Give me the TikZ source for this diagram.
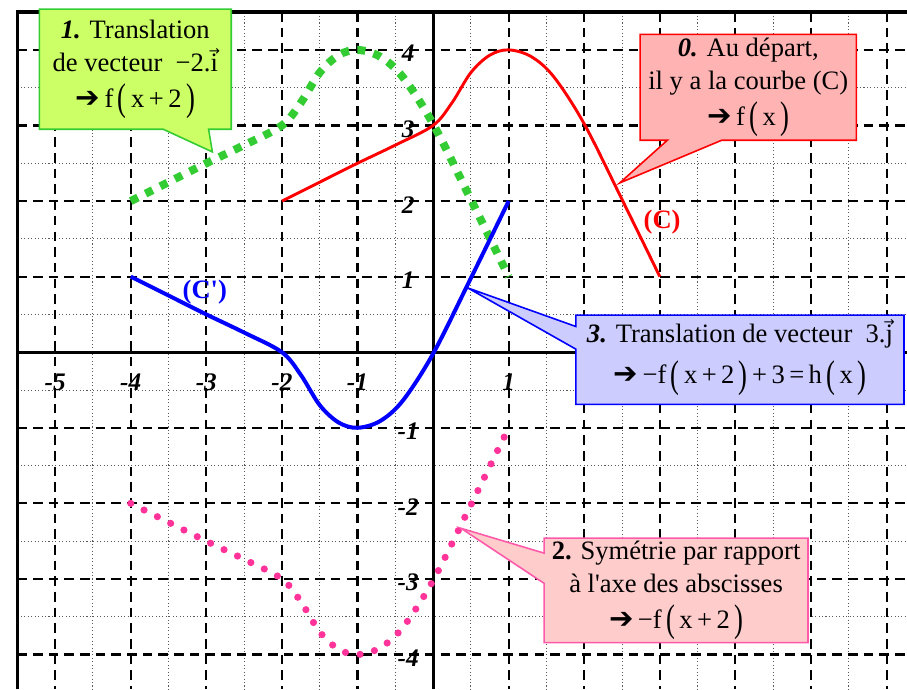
\documentclass[tikz,border=0pt]{standalone}
\usepackage{fontspec}
\setmainfont{Liberation Serif}
\newfontfamily\dejavu{DejaVu Sans}
\usetikzlibrary{shapes.callouts}
\definecolor{grn}{RGB}{51,204,51}
\definecolor{grnfill}{RGB}{204,255,102}
\definecolor{redfill}{RGB}{255,179,179}
\definecolor{pinkfill}{RGB}{255,204,204}
\definecolor{pinkline}{RGB}{255,90,170}
\definecolor{bluefill}{RGB}{204,204,255}
\definecolor{pinkdot}{RGB}{255,51,153}
\newcommand\myLP{\,\raisebox{-0.13em}{\scalebox{1}[1.45]{(}}\,}
\newcommand\myRP{\,\raisebox{-0.13em}{\scalebox{1}[1.45]{)}}}
\newcommand\myArrow{{\dejavu\fontsize{11}{11}\selectfont ➔}\,}
\newcommand\myVec[1]{{\ooalign{#1\cr\hidewidth\raisebox{0.6em}{\dejavu\fontsize{5}{5}\selectfont →}\hidewidth\cr}}}
\newcommand\fpts{(-2,2) (-1.5,2.25) (-1,2.5) (-0.5,2.74) (0,3) (0.25,3.3) (0.5,3.7) (0.75,3.93) (1,4) (1.3,3.91) (1.6,3.64) (2,3.02) (2.5,2.02) (3,1)}
\begin{document}
\begin{tikzpicture}[x=1cm,y=1cm,
  minorgrid/.style={gray!70!black,line width=0.35pt,dash pattern=on 0.4pt off 0.9pt},
  majorgrid/.style={black,line width=0.8pt,dash pattern=on 3.6pt off 2.3pt},
  axisline/.style={black,line width=1.1pt},
  ticklab/.style={font=\fontsize{9.5}{10}\selectfont\bfseries\itshape,inner sep=0pt},
  callbox/.style={rectangle callout,align=center,inner sep=1pt,line width=0.6pt,
    font=\fontsize{10}{12.5}\selectfont},
  curvelab/.style={font=\fontsize{10}{12}\selectfont\bfseries,inner sep=0pt},
  fcurve/.style={smooth,tension=0.55}]
\useasboundingbox (-5.73,-4.46) rectangle (6.27,4.66);
\clip (-5.73,-4.46) rectangle (6.27,4.66);
% grid
\foreach \x in {-4.5,-3.5,...,5.6} \draw[minorgrid] (\x,4.5) -- (\x,-4.46);
\foreach \y in {-3.5,-2.5,...,3.6} \draw[minorgrid] (-5.5,\y) -- (6.27,\y);
\foreach \x in {-5,-4,-3,-2,-1,1,2,3,4,5,6} \draw[majorgrid] (\x,4.5) -- (\x,-4.46);
\foreach \y in {-4,-3,-2,-1,1,2,3,4} \draw[majorgrid] (-5.5,\y) -- (6.27,\y);
% axes and frame
\draw[axisline] (-5.5,0) -- (6.27,0);
\draw[axisline] (0,4.5) -- (0,-4.46);
\draw[black,line width=1.2pt] (-5.5,-4.46) -- (-5.5,4.5) -- (6.27,4.5);
% tick labels
\foreach \x/\t in {-5/-5,-4/-4,-3/-3,-2/-2,-1/-1,1/1}
  \node[ticklab] (tx\t) at (\x,-0.4) {\t};
\foreach \y/\t in {4/4,3/3,2/2,1/1,-1/-1,-2/-2,-3/-3,-4/-4}
  \node[ticklab] (ty\t) at (-0.33,\y-0.05) {\t};
% curve C : f(x)
\draw[red,line width=1.1pt] plot[fcurve] coordinates {\fpts};
% f(x+2)
\begin{scope}[xshift=-2cm]
\draw[grn,line width=3pt,dash pattern=on 3pt off 3.2pt] plot[fcurve] coordinates {\fpts};
\end{scope}
% -f(x+2)
\begin{scope}[xshift=-2cm,yscale=-1]
\draw[pinkdot,line width=2.7pt,line cap=round,dash pattern=on 0pt off 5.6pt] plot[fcurve] coordinates {\fpts};
\end{scope}
% -f(x+2)+3
\begin{scope}[xshift=-2cm,yshift=3cm,yscale=-1]
\draw[blue,line width=1.5pt] plot[fcurve] coordinates {\fpts};
\end{scope}
% curve labels
\node[curvelab,text=red] (labC) at (3.03,1.72) {(C)};
\node[curvelab,text=blue] (labCp) at (-3.02,0.79) {(C\textquotesingle)};
% callout pointers
\coordinate (p1) at (-2.92,2.65);
\coordinate (p0) at (2.47,2.24);
\coordinate (p3) at (0.46,0.85);
\coordinate (p2) at (0.37,-2.33);
% callouts
\node[callbox,draw=grn,fill=grnfill,minimum width=2.54cm,minimum height=1.59cm,
  callout absolute pointer={(p1)},callout pointer width=0.6cm] (box1) at (-3.94,3.745)
  {\textbf{\textit{1.}} Translation\\ de vecteur\ \ −2.\myVec{i}\\[1pt] \myArrow f\myLP x\,+\,2\myRP};
\node[callbox,draw=red,fill=redfill,minimum width=2.86cm,minimum height=1.40cm,
  callout absolute pointer={(p0)},callout pointer width=0.72cm] (box0) at (4.17,3.505)
  {\textbf{\textit{0.}} Au départ,\\ il y a la courbe (C)\\[1pt] \myArrow f\myLP x\myRP};
\node[callbox,draw=blue,fill=bluefill,minimum width=4.34cm,minimum height=1.18cm,
  callout absolute pointer={(p3)},callout pointer width=0.3cm] (box3) at (4.06,-0.10)
  {\textbf{\textit{3.}} Translation de vecteur\ \ 3.\myVec{j}\\[3pt] \myArrow −f\myLP x\,+\,2\myRP\,+\,3\,=\,h\myLP x\myRP};
\node[callbox,draw=pinkline,fill=pinkfill,minimum width=3.49cm,minimum height=1.38cm,
  callout absolute pointer={(p2)},callout pointer width=0.4cm] (box2) at (3.215,-3.15)
  {\textbf{2.} Symétrie par rapport\\ à l\textquotesingle axe des abscisses\\[1pt] \myArrow −f\myLP x\,+\,2\myRP};
\end{tikzpicture}
\end{document}
